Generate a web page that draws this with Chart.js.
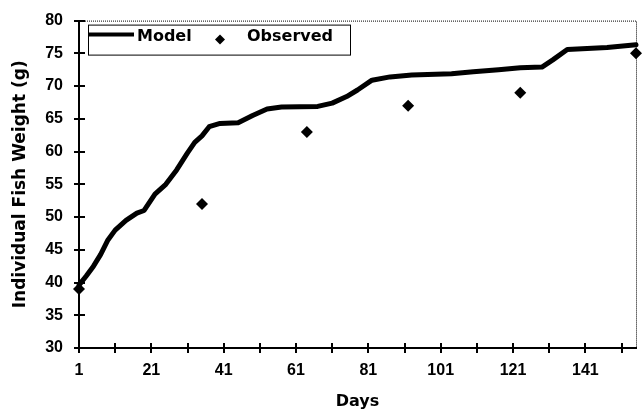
<!DOCTYPE html>
<html lang="en">
<head>
<meta charset="UTF-8">
<title>Individual Fish Weight</title>
<script src="https://cdn.jsdelivr.net/npm/chart.js@4.4.1/dist/chart.umd.min.js"></script>
<style>
    html, body { margin: 0; padding: 0; background: #fff; }
    canvas { display: block; }
</style>
</head>
<body>
<canvas id="fishChart" width="642" height="410"></canvas>
<script>
    // Model curve
    const modelDays = [1, 3, 5, 7, 9, 11, 14, 17, 19, 22, 25, 28, 31, 33, 35, 37, 40, 45, 49, 53, 57, 67, 71, 75, 78, 82, 87, 93, 104, 110, 117, 123, 129, 132, 136, 147, 155];
    const modelWeights = [39.6, 41.0, 42.5, 44.3, 46.5, 48.0, 49.5, 50.6, 51.0, 53.5, 55.0, 57.2, 59.8, 61.4, 62.4, 63.8, 64.3, 64.4, 65.5, 66.5, 66.8, 66.9, 67.4, 68.4, 69.4, 70.9, 71.4, 71.7, 71.9, 72.2, 72.5, 72.8, 72.9, 74.0, 75.6, 75.9, 76.3];

    // Observed samples
    const obsDays = [1, 35, 64, 92, 123, 155];
    const obsWeights = [39, 52, 63, 67, 69, 75];

    // Axis ticks
    const xTickDays = [1, 11, 21, 31, 41, 51, 61, 71, 81, 91, 101, 111, 121, 131, 141, 151];
    const xLabelDays = [1, 21, 41, 61, 81, 101, 121, 141];
    const yTicks = [30, 35, 40, 45, 50, 55, 60, 65, 70, 75, 80];

    const tickFont = { family: '"Liberation Sans", Arial, sans-serif', size: 16, weight: 'bold' };
    const titleFont = '"DejaVu Sans", sans-serif';

    // short ticks that cross the axis into the plot
    const innerTicks = {
        id: 'innerTicks',
        afterDraw(chart) {
            const ctx = chart.ctx;
            const a = chart.chartArea;
            const xs = chart.scales.x, ys = chart.scales.y;
            ctx.save();
            ctx.strokeStyle = '#000';
            ctx.lineWidth = 2;
            ctx.beginPath();
            xs.ticks.forEach(t => {
                const px = Math.round(xs.getPixelForValue(t.value));
                ctx.moveTo(px, a.bottom);
                ctx.lineTo(px, a.bottom - 5);
            });
            ys.ticks.forEach(t => {
                const py = Math.round(ys.getPixelForValue(t.value));
                ctx.moveTo(a.left, py);
                ctx.lineTo(a.left + 6, py);
            });
            ctx.stroke();

            // dotted frame on top and right
            ctx.lineWidth = 1;
            ctx.setLineDash([1, 1]);
            ctx.beginPath();
            ctx.moveTo(a.left, a.top + 0.5);
            ctx.lineTo(a.right + 0.5, a.top + 0.5);
            ctx.lineTo(a.right + 0.5, a.bottom);
            ctx.stroke();
            ctx.restore();
        }
    };

    // boxed legend inside the plot, top left
    const boxLegend = {
        id: 'boxLegend',
        afterDraw(chart) {
            const ctx = chart.ctx;
            const a = chart.chartArea;
            const x = a.left + 9, y = a.top + 4, w = 262, h = 30;
            const [model, obs] = chart.data.datasets;
            ctx.save();
            ctx.fillStyle = '#fff';
            ctx.fillRect(x, y, w, h);
            ctx.strokeStyle = '#000';
            ctx.lineWidth = 1;
            ctx.strokeRect(x + 0.5, y + 0.5, w, h);

            ctx.lineWidth = 4;
            ctx.strokeStyle = model.borderColor;
            ctx.beginPath();
            ctx.moveTo(x + 1, y + 10);
            ctx.lineTo(x + 46, y + 10);
            ctx.stroke();

            ctx.fillStyle = '#000';
            ctx.font = 'bold 16px ' + titleFont;
            ctx.textBaseline = 'middle';
            ctx.fillText(model.label, x + 49, y + 12);

            const cx = x + 132, cy = y + 15, r = 5;
            ctx.beginPath();
            ctx.moveTo(cx, cy - r);
            ctx.lineTo(cx + r, cy);
            ctx.lineTo(cx, cy + r);
            ctx.lineTo(cx - r, cy);
            ctx.closePath();
            ctx.fill();

            ctx.fillText(obs.label, x + 159, y + 12);
            ctx.restore();
        }
    };

    new Chart(document.getElementById('fishChart'), {
        type: 'line',
        data: {
            datasets: [{
                label: 'Model',
                data: modelDays.map((d, i) => ({ x: d, y: modelWeights[i] })),
                borderColor: '#000',
                borderWidth: 5,
                borderJoinStyle: 'round',
                borderCapStyle: 'round',
                pointRadius: 0,
                tension: 0,
                clip: false
            }, {
                label: 'Observed',
                data: obsDays.map((d, i) => ({ x: d, y: obsWeights[i] })),
                showLine: false,
                pointStyle: 'rectRot',
                pointRadius: 6,
                pointBackgroundColor: '#000',
                pointBorderColor: '#000',
                pointBorderWidth: 0,
                clip: false
            }]
        },
        options: {
            responsive: false,
            animation: false,
            layout: { padding: { top: 16, right: 4, left: 0, bottom: 0 } },
            plugins: {
                legend: { display: false },
                tooltip: { enabled: false }
            },
            scales: {
                x: {
                    type: 'linear',
                    min: 1,
                    max: 155,
                    afterBuildTicks: s => { s.ticks = xTickDays.map(v => ({ value: v })); },
                    afterFit: s => { s.height = 62; },
                    ticks: {
                        autoSkip: false,
                        maxRotation: 0,
                        color: '#000',
                        font: tickFont,
                        padding: 8,
                        callback: v => xLabelDays.includes(v) ? String(v) : ''
                    },
                    grid: { drawOnChartArea: false, tickLength: 5, tickColor: '#000', lineWidth: 2 },
                    border: { color: '#000', width: 2 },
                    title: {
                        display: true,
                        text: 'Days',
                        color: '#000',
                        font: { family: titleFont, size: 16, weight: 'bold', lineHeight: 1 },
                        padding: { top: 0, bottom: 0 }
                    }
                },
                y: {
                    min: 30,
                    max: 80,
                    afterBuildTicks: s => { s.ticks = yTicks.map(v => ({ value: v })); },
                    afterFit: s => { s.width = 79; },
                    ticks: { color: '#000', font: tickFont, padding: 11 },
                    grid: { drawOnChartArea: false, tickLength: 5, tickColor: '#000', lineWidth: 2 },
                    border: { color: '#000', width: 2 },
                    title: {
                        display: true,
                        text: 'Individual Fish Weight (g)',
                        color: '#000',
                        font: { family: titleFont, size: 17, weight: 'bold' },
                        padding: { top: 10, bottom: 0 }
                    }
                }
            }
        },
        plugins: [innerTicks, boxLegend]
    });
</script>
</body>
</html>
